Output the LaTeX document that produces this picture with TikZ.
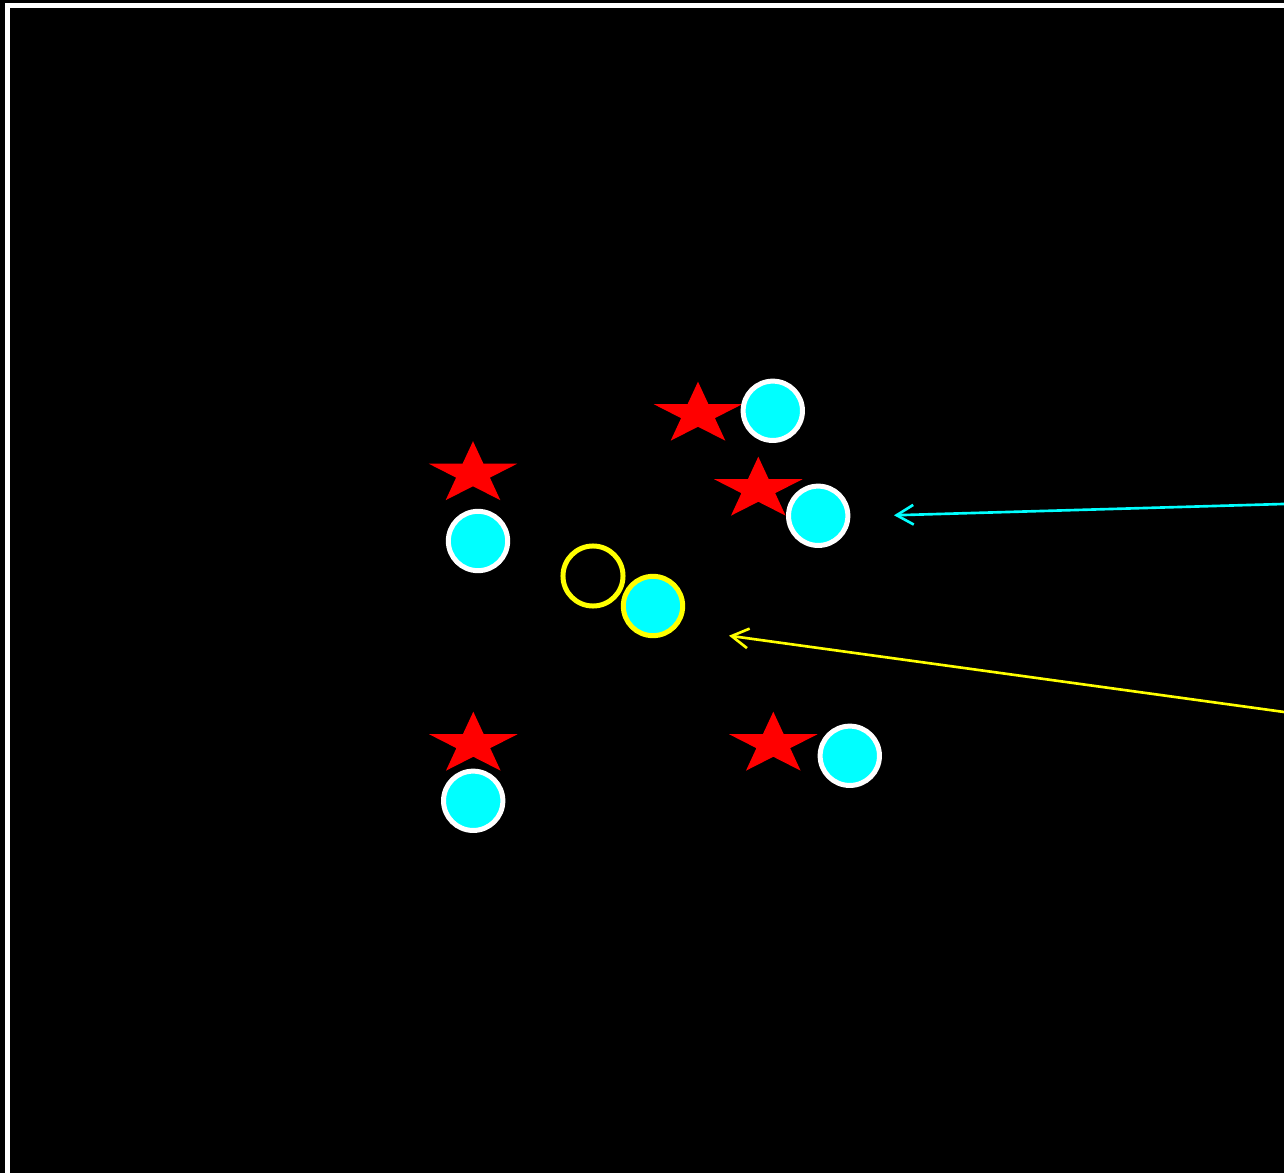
\documentclass[tikz,border=0pt]{standalone}
\usetikzlibrary{arrows.meta}
\definecolor{cy}{RGB}{0,255,255}
\definecolor{ye}{RGB}{255,255,0}
\definecolor{rd}{RGB}{255,0,0}
\tikzset{
  redstar/.pic={\fill[rd] (90:1) -- (126:0.382) -- (162:1) -- (198:0.382) -- (234:1) -- (270:0.382) -- (306:1) -- (342:0.382) -- (18:1) -- (54:0.382) -- cycle;},
  dot/.style={circle, inner sep=0pt, minimum size=0.593cm, line width=1.42pt, fill=cy, draw=white},
  ydot/.style={dot, draw=ye},
  yring/.style={circle, inner sep=0pt, minimum size=0.60cm, line width=1.42pt, draw=ye},
  pointer/.style={line width=0.75pt, {Straight Barb[length=4.8pt,width=5.6pt]}-}
}
\begin{document}
\begin{tikzpicture}[x=0.01cm, y=-0.01cm]
\fill[black] (0,0) rectangle (1284,1173);
\useasboundingbox (0,0) rectangle (1284,1173);
\clip (0,0) rectangle (1284,1173);
\draw[white, line width=1.4pt] (7.5,5.8) rectangle (1320,1210);
% stars
\pic[xscale=46.5, yscale=-32.6] (s1) at (698,414.3) {redstar};
\pic[xscale=46.5, yscale=-32.6] (s2) at (758.3,489.3) {redstar};
\pic[xscale=46.5, yscale=-32.6] (s3) at (473,473.8) {redstar};
\pic[xscale=46.5, yscale=-32.6] (s4) at (473.3,744.3) {redstar};
\pic[xscale=46.5, yscale=-32.6] (s5) at (773.3,744.3) {redstar};
% circles
\node[dot] (c1) at (772.8,410.8) {};
\node[dot] (c2) at (818.2,515.8) {};
\node[dot] (c3) at (478,541) {};
\node[dot] (c4) at (473.2,800.8) {};
\node[dot] (c5) at (849.8,755.8) {};
\node[yring] (y1) at (593,576) {};
\node[ydot] (y2) at (653,606) {};
% arrows
\coordinate (a1) at (894,515.3);
\coordinate (a1e) at (1290,503.8);
\coordinate (a2) at (729,635.7);
\coordinate (a2e) at (1290,712.8);
\draw[pointer, cy] (a1) -- (a1e);
\draw[pointer, ye] (a2) -- (a2e);
\end{tikzpicture}
\end{document}
